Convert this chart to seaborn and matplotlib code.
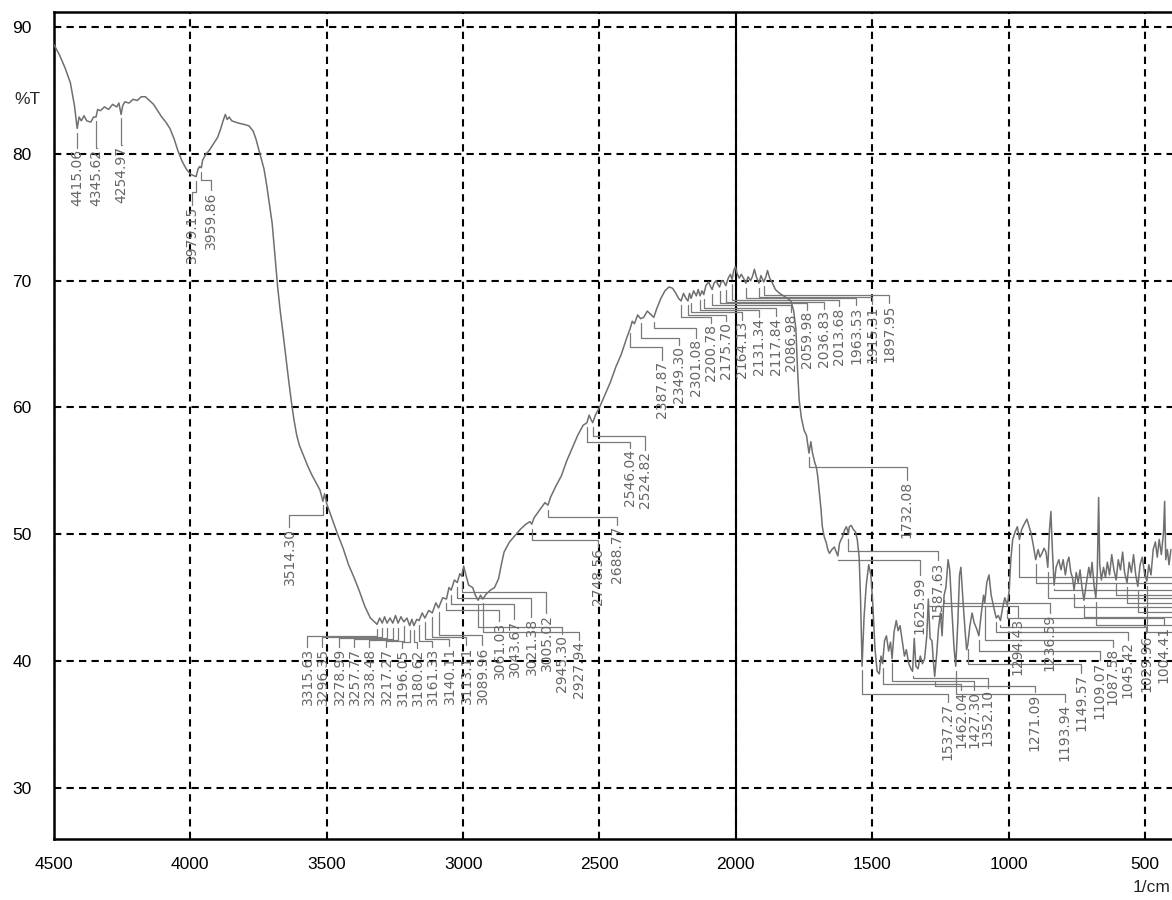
import numpy as np
import pandas as pd
import matplotlib
matplotlib.use("Agg")
import matplotlib.pyplot as plt
from matplotlib.ticker import MultipleLocator
import seaborn as sns

# ---------------- spectrum: wavenumber (1/cm) and transmittance (%T) ----------------
wavenumber = [
    4500, 4480, 4460, 4440, 4425, 4415, 4408, 4400, 4390, 4380, 4365, 4355, 4346, 4340,
    4330, 4315, 4300, 4285, 4270, 4262, 4254, 4248, 4240, 4225, 4210, 4195, 4180, 4165,
    4150, 4135, 4120, 4105, 4090, 4075, 4060, 4045, 4030, 4015, 4000, 3990, 3979, 3972,
    3966, 3960, 3955, 3945, 3930, 3915, 3900, 3890, 3880, 3872, 3865, 3858, 3848, 3835,
    3820, 3800, 3785, 3770, 3760, 3750, 3740, 3730, 3720, 3710, 3700, 3690, 3680, 3670,
    3660, 3650, 3640, 3630, 3620, 3610, 3600, 3585, 3570, 3555, 3540, 3525, 3514, 3508,
    3500, 3480, 3460, 3440, 3420, 3400, 3380, 3360, 3340, 3325, 3315.6, 3306, 3296.4,
    3288, 3279, 3268, 3257.8, 3248, 3238.5, 3228, 3217.3, 3206, 3196, 3188, 3180.6, 3170,
    3161.3, 3150, 3140.1, 3126, 3113.1, 3100, 3090, 3075, 3061, 3052, 3043.7, 3032,
    3021.4, 3012, 3005, 2998, 2990, 2980, 2965, 2955, 2945.3, 2936, 2927.9, 2915, 2900,
    2885, 2870, 2860, 2850, 2830, 2810, 2790, 2770, 2755, 2748.6, 2740, 2720, 2700,
    2688.8, 2680, 2660, 2640, 2620, 2600, 2580, 2560, 2546, 2538, 2530, 2524.8, 2515,
    2500, 2480, 2460, 2440, 2420, 2400, 2387.9, 2380, 2372, 2360, 2349.3, 2338, 2325,
    2310, 2301, 2290, 2275, 2260, 2245, 2232, 2220, 2210, 2200.8, 2192, 2183, 2175.7,
    2170, 2164, 2155, 2145, 2138, 2131.3, 2124, 2117.8, 2110, 2100, 2092, 2087, 2080,
    2072, 2066, 2060, 2052, 2044, 2036.8, 2028, 2020, 2013.7, 2008, 2002, 1996, 1988,
    1980, 1972, 1963.5, 1955, 1946, 1938, 1932, 1925, 1915.3, 1908, 1897.9, 1890, 1884,
    1876, 1866, 1855, 1840, 1825, 1810, 1798, 1788, 1780, 1774, 1768, 1760, 1750, 1741,
    1732, 1725, 1719, 1710, 1705, 1700, 1694, 1688, 1683, 1676, 1668, 1663, 1657, 1648,
    1639, 1632, 1626, 1620, 1614, 1609, 1602, 1595, 1590, 1587.6, 1584, 1577, 1570, 1562,
    1555, 1548, 1543, 1539, 1537.3, 1530, 1522, 1513, 1505, 1498, 1490, 1482, 1474, 1468,
    1462, 1455, 1448, 1440, 1433, 1427.3, 1420, 1412, 1405, 1398, 1390, 1382, 1375, 1366,
    1358, 1352.1, 1346, 1340, 1332, 1324, 1316, 1308, 1300, 1294.4, 1288, 1281, 1276,
    1271.1, 1264, 1257, 1250, 1244, 1236.6, 1230, 1222, 1216, 1208, 1200, 1193.9, 1186,
    1180, 1175, 1168, 1160, 1154, 1149.6, 1142, 1134, 1126, 1118, 1109.1, 1100, 1092,
    1087.6, 1080, 1072, 1064, 1058, 1052, 1045.4, 1038, 1030, 1022, 1014, 1004.4, 998,
    992, 985, 976, 968, 960.4, 952, 943, 933, 925, 918, 910, 900.8, 892, 885, 878, 870,
    863, 856.4, 850, 845, 840, 833.3, 826, 816, 808, 800, 792, 785, 779, 772, 766, 760,
    752, 745, 738, 731, 723.9, 716, 706, 700, 694, 687, 680.3, 675, 670, 666, 660, 652,
    645, 638, 630, 622, 614, 605.7, 598, 590, 582, 575, 565.9, 558, 550, 542, 534, 526.3,
    518, 510, 502, 493.4, 486, 478, 470, 462, 455, 448, 440, 432, 428, 424, 418, 412, 405,
]
transmittance = [
    88.6, 87.8, 86.8, 85.6, 83.8, 82.0, 82.9, 82.6, 83.0, 82.6, 82.5, 82.9, 82.9, 83.5,
    83.4, 83.7, 83.5, 83.9, 83.7, 84.0, 83.1, 83.8, 84.1, 84.0, 84.3, 84.2, 84.5, 84.5,
    84.2, 83.9, 83.4, 82.9, 82.5, 82.0, 81.2, 80.2, 79.4, 78.8, 78.4, 78.3, 78.2, 78.8,
    79.0, 78.9, 79.5, 79.9, 80.3, 80.8, 81.3, 81.9, 82.6, 83.1, 82.7, 82.9, 82.6, 82.5,
    82.4, 82.3, 82.2, 81.8, 81.2, 80.4, 79.6, 78.8, 77.5, 76.0, 74.5, 72.0, 69.5, 67.5,
    65.8, 64.0, 62.2, 60.5, 59.0, 57.8, 57.0, 56.2, 55.4, 54.7, 54.1, 53.5, 52.6, 53.2,
    52.4, 51.2, 50.0, 48.9, 47.6, 46.6, 45.5, 44.3, 43.4, 43.1, 42.9, 43.4, 43.0,
    43.5, 43.0, 43.4, 43.0, 43.6, 43.0, 43.5, 43.1, 43.4, 42.8, 43.3, 42.8, 43.3,
    43.2, 43.8, 43.4, 44.0, 43.8, 44.6, 44.2, 45.0, 44.9, 45.8, 45.6, 46.4,
    46.2, 46.9, 46.7, 47.5, 46.8, 46.0, 45.8, 45.2, 44.8, 45.2, 44.9, 45.3, 45.6,
    45.8, 46.5, 47.6, 48.6, 49.4, 49.9, 50.4, 50.8, 51.0, 50.8, 51.3, 51.9, 52.5,
    52.3, 52.9, 53.8, 54.6, 55.8, 56.8, 57.8, 58.6, 58.8, 59.4, 59.0, 58.8, 59.4,
    60.0, 61.0, 62.0, 63.2, 64.2, 65.5, 66.2, 66.8, 66.6, 67.3, 67.0, 67.1, 67.6,
    67.3, 67.1, 67.8, 68.6, 69.2, 69.5, 69.4, 69.0, 68.6, 68.4, 69.0, 68.6, 68.4,
    69.0, 68.6, 69.2, 68.8, 69.3, 68.8, 69.2, 68.9, 69.6, 69.9, 69.5, 69.3, 69.8,
    70.0, 69.7, 69.5, 70.0, 69.9, 69.6, 70.2, 70.5, 70.1, 70.8, 71.1, 70.6, 70.2,
    70.5, 70.2, 69.8, 70.3, 70.0, 70.4, 70.9, 70.3, 69.8, 70.4, 69.9, 70.3, 70.8,
    70.2, 69.8, 69.3, 69.0, 68.8, 68.6, 68.4, 67.6, 66.2, 63.0, 60.6, 59.2, 58.2, 57.8,
    56.4, 57.3, 56.4, 55.6, 55.3, 54.6, 53.3, 52.0, 50.6, 49.8, 49.3, 48.8, 48.5, 48.8,
    49.0, 48.6, 48.3, 49.3, 49.6, 49.8, 50.3, 50.6, 50.3, 50.0, 50.6, 50.7, 50.4, 50.2,
    49.6, 48.2, 45.0, 41.0, 39.6, 43.5, 46.0, 47.6, 46.8, 44.5, 41.0, 39.2, 39.0, 40.4,
    39.8, 41.6, 42.0, 40.8, 41.5, 40.2, 42.3, 43.2, 42.4, 42.8, 41.6, 40.4, 40.9, 39.8,
    39.4, 39.2, 41.8, 39.6, 39.4, 40.4, 39.8, 40.2, 42.0, 44.9, 41.8, 41.6, 40.0,
    38.8, 40.5, 42.6, 43.8, 42.0, 45.2, 45.8, 48.0, 47.2, 44.0, 41.0, 39.6, 43.2,
    46.8, 47.4, 45.0, 42.5, 40.9, 41.3, 42.8, 43.8, 43.0, 42.6, 42.0, 43.8, 45.2,
    44.6, 46.2, 46.8, 45.2, 44.6, 44.0, 43.4, 43.6, 43.2, 44.2, 45.0, 44.4, 45.6,
    48.0, 49.6, 50.2, 50.6, 49.6, 50.4, 50.8, 51.2, 50.6, 50.1, 49.2, 48.0, 48.8, 48.2, 48.5, 48.9,
    48.6, 47.4, 50.4, 51.8, 49.0, 46.0, 47.4, 48.0, 47.2, 48.0, 46.8, 47.8, 48.2, 47.0, 46.6, 45.6,
    47.0, 46.2, 47.2, 45.8, 44.8, 46.0, 47.4, 46.6, 47.8, 46.0, 45.0, 47.0, 52.9, 47.6, 46.4, 47.4,
    46.6, 47.8, 46.8, 48.4, 47.2, 46.4, 48.0, 47.2, 48.6, 47.0, 46.2, 47.8, 47.0, 48.4, 46.8, 45.9,
    47.6, 48.2, 47.0, 46.3, 47.6, 46.8, 48.8, 49.4, 48.2, 49.6, 48.4, 50.2, 52.6, 48.0, 48.8, 47.6, 48.8,
]

# ---------------- labelled peaks (1/cm) ----------------
peak_wavenumber = [
    4415.06, 4345.62, 4254.97, 3979.15, 3959.86, 3514.30,
    3315.63, 3296.35, 3278.99, 3257.77, 3238.48, 3217.27, 3196.05, 3180.62, 3161.33,
    3140.11, 3113.11, 3089.96, 3061.03, 3043.67, 3021.38, 3005.02, 2945.30, 2927.94,
    2748.56, 2688.77, 2546.04, 2524.82,
    2387.87, 2349.30, 2301.08, 2200.78, 2175.70, 2164.13, 2131.34, 2117.84, 2086.98,
    2059.98, 2036.83, 2013.68, 1963.53, 1915.31, 1897.95,
    1732.08, 1625.99, 1587.63,
    1537.27, 1462.04, 1427.30, 1352.10, 1294.43, 1271.09, 1236.59, 1193.94, 1149.57,
    1109.07, 1087.58, 1045.42, 1029.96, 1004.41,
    960.42, 900.77, 856.39, 833.25, 759.96, 723.90, 680.27, 605.68, 565.89, 526.31, 493.44,
]

# ---------------- leader/label layout: label x (1/cm), elbow level and label top (%T) ----------------
label_x = [
    4415.0, 4344.0, 4252.5, 3995.8, 3926.0, 3636.6,
    3570.6, 3515.6, 3453.3, 3398.3, 3343.3, 3281.0, 3222.3, 3167.3, 3112.3,
    3050.0, 2987.7, 2929.0, 2866.7, 2811.7, 2749.4, 2694.4, 2635.7, 2573.4,
    2505.5, 2435.8, 2389.6, 2334.6,
    2269.1, 2206.8, 2144.4, 2089.5, 2034.5, 1975.8, 1913.5, 1851.2, 1796.2,
    1737.6, 1675.3, 1620.3, 1558.0, 1499.3, 1437.0,
    1374.3, 1326.7, 1260.7,
    1224.0, 1174.0, 1127.0, 1076.3, 966.3, 905.1, 850.1, 795.1, 733.9,
    666.8, 618.0, 563.0, 495.5, 432.0,
    340.0, 325.0, 310.0, 295.0, 280.0, 265.0, 250.0, 235.0, 220.0, 205.0, 190.0,
]
label_elbow = [
    80.46, 80.46, 80.70, 77.00, 77.94, 51.52,
    41.98, 41.90, 41.82, 41.75, 41.67, 41.59, 41.51, 41.51, 41.59,
    41.75, 41.90, 42.06, 44.03, 44.51, 44.98, 45.45, 42.69, 42.30,
    49.55, 51.37, 57.28, 57.75,
    64.77, 65.48, 66.27, 67.13, 67.29, 67.53, 67.69, 67.84, 68.08,
    68.24, 68.32, 68.47, 68.63, 68.71, 68.87,
    55.31, 47.97, 48.68,
    37.41, 38.20, 38.43, 38.67, 44.35, 38.04, 44.58, 37.41, 39.78,
    40.80, 41.67, 42.30, 42.69, 43.40,
    46.63, 46.16, 44.98, 45.60, 44.27, 43.48, 42.85, 45.20, 44.60, 43.90, 42.30,
]
label_top = [
    80.46, 80.46, 80.70, 75.97, 77.15, 50.58,
    41.12, 41.12, 41.12, 41.12, 41.12, 41.12, 41.04, 41.04, 41.12,
    41.20, 41.28, 41.28, 43.17, 43.32, 43.48, 43.80, 42.14, 41.67,
    49.00, 50.74, 56.81, 56.65,
    63.74, 64.93, 65.48, 66.66, 66.82, 66.90, 67.13, 67.21, 67.53,
    67.69, 67.77, 68.00, 68.08, 68.16, 68.24,
    54.28, 46.79, 47.97,
    36.78, 37.72, 37.72, 37.88, 43.48, 37.57, 43.80, 36.78, 39.07,
    40.09, 41.12, 41.67, 42.22, 42.85,
    46.0, 45.5, 44.4, 45.0, 43.7, 42.9, 42.3, 44.6, 44.0, 43.3, 41.7,
]

LINE_GREY = "#6f6f6f"
LEADER_GREY = "#7a7a7a"
TEXT_GREY = "#666666"
X_LEFT, X_RIGHT = 4500, 401

sns.set_style("white")
plt.rcParams["font.family"] = ["DejaVu Sans"]
TICK_FONT = ["Liberation Sans Narrow", "Liberation Sans", "DejaVu Sans"]

fig = plt.figure(figsize=(11.72, 9.0), dpi=100)
ax = fig.add_axes([54 / 1172, 61 / 900, 1118 / 1172, 827 / 900])

spec = pd.DataFrame({"wavenumber": wavenumber, "transmittance": transmittance})
sns.lineplot(data=spec, x="wavenumber", y="transmittance", ax=ax, sort=False,
             estimator=None, color=LINE_GREY, linewidth=1.1, zorder=3)

# peak leaders and labels; labels that fall past the right edge of the
# wavenumber range only show their leader running off the plot
wn_sorted = np.asarray(wavenumber)[::-1]
t_sorted = np.asarray(transmittance)[::-1]
peak_t = np.interp(peak_wavenumber, wn_sorted, t_sorted)
for p, pt, lx, el, top in zip(peak_wavenumber, peak_t, label_x, label_elbow, label_top):
    ax.plot([p, p, lx, lx], [pt - 0.35, el, el, top], color=LEADER_GREY,
            linewidth=0.9, zorder=2, clip_on=True)
    if lx > X_RIGHT:
        ax.text(lx, top - 0.1, f"{p:.2f}", rotation=90, ha="center", va="top",
                fontsize=10, color=TEXT_GREY, clip_on=True, zorder=4)

ax.set_xlim(X_LEFT, X_RIGHT)
ax.set_ylim(25.98, 91.18)
ax.set_xticks(np.arange(500, 4501, 500))
ax.xaxis.set_minor_locator(MultipleLocator(100))
ax.set_yticks(np.arange(30, 91, 10))
ax.yaxis.set_minor_locator(MultipleLocator(2))

ax.grid(True, which="major", color="black", linestyle=(0, (3.5, 2.5)), linewidth=1.5)
ax.axvline(2000, color="black", linewidth=1.5, zorder=1)
ax.set_axisbelow(True)

for side in ("left", "bottom", "top"):
    ax.spines[side].set_color("black")
    ax.spines[side].set_linewidth(1.8)
ax.spines["right"].set_visible(False)

ax.tick_params(axis="both", which="major", direction="out", length=10, width=1.5,
               colors="black", labelsize=12.5)
ax.tick_params(axis="both", which="minor", direction="out", length=4, width=1.3,
               colors="black")
ax.tick_params(axis="x", which="major", pad=3)
ax.tick_params(axis="y", which="major", pad=6)
for lab in ax.get_xticklabels() + ax.get_yticklabels():
    lab.set_fontfamily(TICK_FONT)

ax.set_xlabel("")
ax.set_ylabel("")
fig.text(14 / 1172, 1 - 100 / 900, "%T", ha="left", va="center", fontsize=12.5,
         family=TICK_FONT)
fig.text(1171 / 1172, 1 - 888 / 900, "1/cm", ha="right", va="center", fontsize=12.5,
         family=TICK_FONT)

fig.savefig("out.png", dpi=100)
